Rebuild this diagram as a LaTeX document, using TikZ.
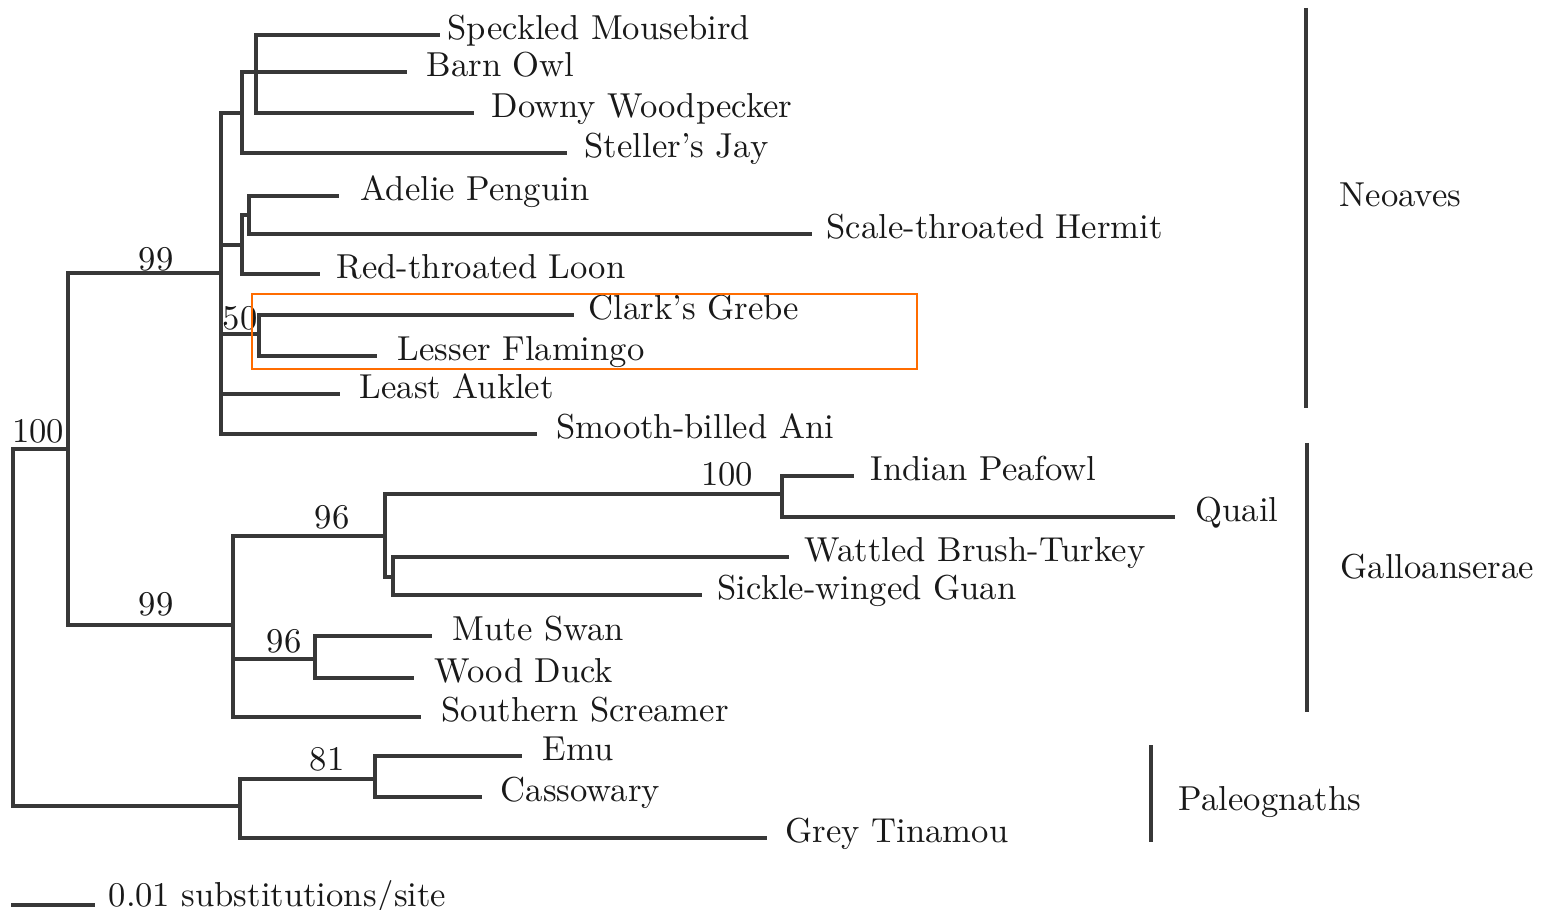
\documentclass[tikz,border=0pt]{standalone}
\usetikzlibrary{positioning}

\begin{document}
\begin{tikzpicture}
  [
  x=0.01cm,y=-0.01cm,
  every node/.style={font=\fontsize{9.85}{11}\selectfont,text=black!90},
  branch/.style={draw=black!78,line width=0.9pt,line cap=rect},
  leaf/.style={inner xsep=0pt,inner ysep=0pt,text height=0.52em,text depth=0.25em},
  boot/.style={anchor=base,inner sep=0pt},
  groupbar/.style={draw=black!78,line width=0.9pt},
  grouplabel/.style={anchor=base west,inner sep=0pt},
  focus/.style={draw=orange!85!red,line width=0.45pt}
  ]
  \useasboundingbox (0,0) rectangle (1552,910);

  \coordinate (root) at (13,806);
  \coordinate (ing) at (68,449);
  \coordinate (neo) at (221,273);
  \coordinate (nb1) at (242,113);
  \coordinate (mb) at (256,72);
  \coordinate (nb2) at (242,245);
  \coordinate (pen) at (249,215);
  \coordinate (n50) at (259,334);
  \coordinate (gal) at (233,625);
  \coordinate (g96) at (385,536);
  \coordinate (g100) at (782,494);
  \coordinate (gcr) at (393,577);
  \coordinate (a96) at (315,659);
  \coordinate (pal) at (240,806);
  \coordinate (p81) at (375,779);

  \coordinate (tMouse) at (438,35);
  \coordinate (tOwl) at (405,72);
  \coordinate (tWood) at (472,113);
  \coordinate (tJay) at (565,153);
  \coordinate (tAdel) at (337,196);
  \coordinate (tHerm) at (810,234);
  \coordinate (tLoon) at (318,274);
  \coordinate (tGreb) at (572,315);
  \coordinate (tFlam) at (375,356);
  \coordinate (tAuk) at (338,394);
  \coordinate (tAni) at (535,434);
  \coordinate (tPea) at (852,476);
  \coordinate (tQuail) at (1173,517);
  \coordinate (tTurk) at (787,557);
  \coordinate (tGuan) at (700,595);
  \coordinate (tSwan) at (430,636);
  \coordinate (tDuck) at (412,678);
  \coordinate (tScr) at (419,717);
  \coordinate (tEmu) at (520,756);
  \coordinate (tCass) at (480,797);
  \coordinate (tTin) at (765,838);

  \draw[branch] (root) |- (ing) (root) -- (pal);
  \draw[branch] (ing) |- (neo) (ing) |- (gal);
  \draw[branch] (neo) |- (nb1) (neo) |- (nb2) (neo) |- (n50)
    (neo) |- (tAuk) (neo) |- (tAni);
  \draw[branch] (nb1) |- (tOwl) (nb1) |- (tJay);
  \draw[branch] (mb) |- (tMouse) (mb) |- (tWood);
  \draw[branch] (nb2) |- (pen) (nb2) |- (tLoon);
  \draw[branch] (pen) |- (tAdel) (pen) |- (tHerm);
  \draw[branch] (n50) |- (tGreb) (n50) |- (tFlam);
  \draw[branch] (gal) |- (g96) (gal) |- (a96) (gal) |- (tScr);
  \draw[branch] (g96) |- (g100) (g96) |- (gcr);
  \draw[branch] (g100) |- (tPea) (g100) |- (tQuail);
  \draw[branch] (gcr) |- (tTurk) (gcr) |- (tGuan);
  \draw[branch] (a96) |- (tSwan) (a96) |- (tDuck);
  \draw[branch] (pal) |- (p81) (pal) |- (tTin);
  \draw[branch] (p81) |- (tEmu) (p81) |- (tCass);

  \node[leaf] (mouse) [right = 0.9mm of tMouse] {Speckled Mousebird};
  \node[leaf] (owl) [right = 2.1mm of tOwl] {Barn Owl};
  \node[leaf] (wood) [right = 1.9mm of tWood] {Downy Woodpecker};
  \node[leaf] (jay) [right = 1.9mm of tJay] {Steller’s Jay};
  \node[leaf] (adel) [right = 2.3mm of tAdel] {Adelie Penguin};
  \node[leaf] (herm) [right = 1.6mm of tHerm] {Scale-throated Hermit};
  \node[leaf] (loon) [right = 1.8mm of tLoon] {Red-throated Loon};
  \node[leaf] (greb) [right = 1.6mm of tGreb] {Clark’s Grebe};
  \node[leaf] (flam) [right = 2.2mm of tFlam] {Lesser Flamingo};
  \node[leaf] (auk) [right = 2.1mm of tAuk] {Least Auklet};
  \node[leaf] (ani) [right = 2.1mm of tAni] {Smooth-billed Ani};
  \node[leaf] (pea) [right = 1.8mm of tPea] {Indian Peafowl};
  \node[leaf] (quail) [right = 2.2mm of tQuail] {Quail};
  \node[leaf] (turk) [right = 1.7mm of tTurk] {Wattled Brush-Turkey};
  \node[leaf] (guan) [right = 1.7mm of tGuan] {Sickle-winged Guan};
  \node[leaf] (swan) [right = 2.2mm of tSwan] {Mute Swan};
  \node[leaf] (duck) [right = 2.2mm of tDuck] {Wood Duck};
  \node[leaf] (scr) [right = 2.2mm of tScr] {Southern Screamer};
  \node[leaf] (emu) [right = 2.2mm of tEmu] {Emu};
  \node[leaf] (cass) [right = 2.0mm of tCass] {Cassowary};
  \node[leaf] (tin) [right = 2.0mm of tTin] {Grey Tinamou};

  \node[boot] (bRoot) at (38,443) {100};
  \node[boot] (bNeo) at (156,271) {99};
  \node[boot] (b50) at (240,330) {50};
  \node[boot] (bG96) at (332,528) {96};
  \node[boot] (bG100) at (727,486) {100};
  \node[boot] (bGal) at (156,616) {99};
  \node[boot] (bA96) at (284,652) {96};
  \node[boot] (b81) at (327,770) {81};

  \draw[focus] (252,294) rectangle (917,369);

  \draw[groupbar] (1306,8) -- (1306,408);
  \draw[groupbar] (1307,443) -- (1307,712);
  \draw[groupbar] (1151,745) -- (1151,842);
  \node[grouplabel] (neoaves) at (1339,207) {Neoaves};
  \node[grouplabel] (galloans) at (1340,579) {Galloanserae};
  \node[grouplabel] (paleo) at (1178,810) {Paleognaths};

  \coordinate (sbL) at (13,905);
  \coordinate (sbR) at (93,905);
  \draw[branch] (sbL) -- (sbR);
  \node[grouplabel] (scale) at (108,906) {0.01 substitutions/site};
\end{tikzpicture}
\end{document}
